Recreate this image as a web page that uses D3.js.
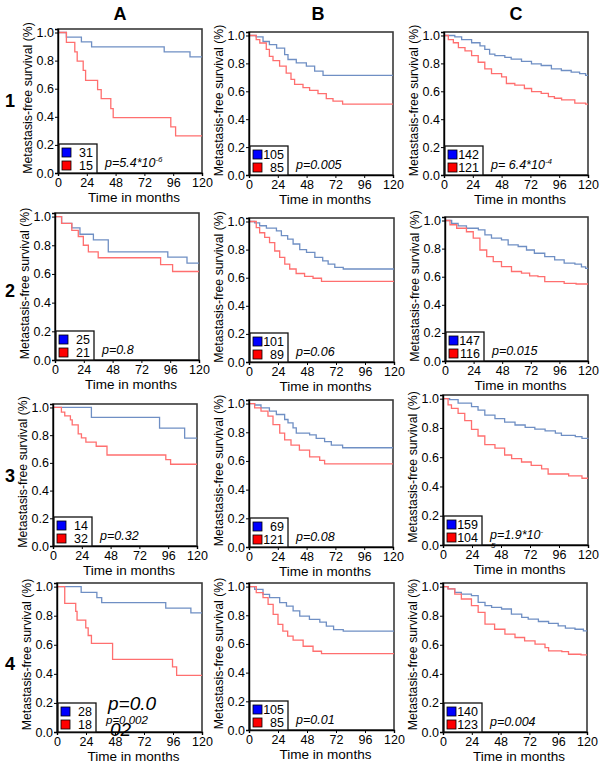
<!DOCTYPE html>
<html><head><meta charset="utf-8">
<script src="https://cdn.jsdelivr.net/npm/d3@7/dist/d3.min.js"></script>
<style>
body{margin:0;background:#fff;}
svg text{font-family:"Liberation Sans",Arial,Helvetica,sans-serif;}
</style></head>
<body><svg id="c" width="600" height="763"></svg>
<script>
// ---- data ----
const columns = ["A","B","C"];
const rows = ["1","2","3","4"];
const xTicks = [0,24,48,72,96,120];
const yTicks = [0,0.2,0.4,0.6,0.8,1.0];

const a1Blue = [[0,1],[7,0.967],[19.5,0.933],[28,0.898],[88.5,0.862],[110,0.826],[120,0.826]];
const a1Red  = [[0,1],[7,0.93],[14,0.862],[16,0.796],[21,0.73],[23,0.66],[33,0.594],[36,0.53],[44,0.458],[46,0.394],[94,0.328],[98,0.264],[120,0.264]];
const b1Blue = [[0,1],[6,0.99],[11.7,0.957],[17,0.934],[23,0.91],[29.7,0.863],[32.5,0.828],[39.4,0.804],[47.8,0.78],[54.7,0.745],[61.7,0.714],[120,0.714]];
const b1Red  = [[0,1],[6,0.97],[9,0.946],[14.4,0.9],[17,0.85],[20,0.82],[25.5,0.78],[31,0.73],[35,0.686],[38,0.65],[45,0.626],[50.5,0.607],[57.5,0.584],[64.4,0.548],[70,0.53],[78,0.508],[120,0.508]];
const c1Blue = [[0,1],[9,0.99],[14.7,0.97],[23,0.948],[30,0.925],[34,0.9],[38,0.866],[42.4,0.855],[50.7,0.843],[56,0.831],[64.6,0.815],[72.9,0.796],[81,0.785],[89.5,0.761],[97.8,0.749],[106,0.738],[113,0.726],[118,0.714],[120,0.714]];
const c1Red  = [[0,1],[3.6,0.97],[7.8,0.948],[12,0.913],[17.5,0.89],[23,0.855],[28.5,0.808],[34,0.761],[39.6,0.726],[48,0.703],[52,0.656],[59,0.644],[67,0.62],[73,0.597],[81,0.585],[87,0.562],[92,0.55],[98,0.539],[109,0.515],[118,0.508],[120,0.508]];
const a2Blue = [[0,1],[5.5,0.952],[14,0.921],[20.8,0.877],[32,0.837],[44.4,0.754],[94,0.718],[110,0.675],[120,0.675]];
const a2Red  = [[0,1],[5.5,0.952],[14,0.904],[19.4,0.861],[23.6,0.8],[27.8,0.754],[36,0.713],[88,0.665],[98,0.617],[120,0.617]];
const b2Blue = [[0,1],[4.7,0.99],[8.8,0.97],[14.4,0.953],[22.7,0.934],[26.8,0.9],[32,0.875],[36.5,0.84],[42,0.8],[47.6,0.78],[54.5,0.745],[61,0.72],[65.5,0.697],[71,0.674],[78,0.662],[120,0.662]];
const b2Red  = [[0,1],[6,0.957],[8.8,0.92],[13,0.887],[17,0.85],[21.3,0.79],[25.4,0.745],[29.6,0.697],[33.7,0.662],[39,0.63],[46,0.61],[53,0.596],[60,0.574],[120,0.574]];
const c2Blue = [[0,1],[5.6,0.98],[11,0.962],[18,0.945],[28,0.933],[33.5,0.898],[39,0.874],[47.4,0.862],[53,0.827],[61.4,0.815],[68.4,0.79],[75,0.767],[83.7,0.743],[92,0.72],[100,0.696],[109,0.69],[114.5,0.67],[118,0.66],[120,0.66]];
const c2Red  = [[0,1],[4.2,0.97],[9.8,0.945],[18,0.92],[23.7,0.874],[29.3,0.79],[35,0.743],[40.5,0.708],[47.4,0.672],[55.8,0.637],[64.2,0.625],[71,0.606],[78,0.6],[83.7,0.565],[100,0.553],[110,0.548],[120,0.548]];
const a3Blue = [[0,1],[32,0.929],[88.8,0.851],[109.7,0.779],[120,0.779]];
const a3Red  = [[0,1],[7,0.966],[9.8,0.94],[14.5,0.91],[16,0.875],[21,0.81],[23.7,0.78],[27.4,0.75],[36,0.72],[45,0.657],[94,0.623],[98,0.59],[120,0.59]];
const b3Blue = [[0,1],[4.7,0.99],[10,0.97],[17,0.948],[22.8,0.924],[29.7,0.889],[32.5,0.865],[36.7,0.83],[39.4,0.794],[50.5,0.782],[56,0.758],[63,0.735],[68.6,0.71],[78,0.692],[120,0.692]];
const b3Red  = [[0,1],[4.7,0.97],[10,0.948],[15.8,0.912],[20,0.853],[25.6,0.794],[29.7,0.747],[35,0.71],[42,0.675],[50.5,0.628],[58.9,0.604],[63,0.58],[120,0.58]];
const c3Blue = [[0,1],[5.5,0.993],[12.5,0.97],[23.6,0.946],[29,0.922],[34.6,0.887],[43,0.863],[51,0.839],[59.6,0.82],[68,0.804],[76,0.792],[84.5,0.78],[93,0.764],[98,0.749],[109.5,0.74],[115,0.728],[120,0.726]];
const c3Red  = [[0,1],[4.2,0.957],[7,0.934],[12.5,0.9],[18,0.85],[23.6,0.79],[29,0.745],[34.6,0.686],[43,0.662],[51,0.615],[56.8,0.59],[65,0.567],[73,0.544],[81.6,0.52],[87,0.485],[104,0.473],[115,0.456],[120,0.456]];
const a4Blue = [[0,1],[20,0.96],[33,0.925],[37,0.89],[90,0.852],[110.8,0.82],[120,0.82]];
const a4Red  = [[0,1],[6.4,0.885],[15.5,0.83],[16.6,0.77],[23.8,0.716],[25.8,0.664],[28.5,0.61],[46,0.5],[95.6,0.448],[99,0.39],[120,0.39]];
const b4Blue = [[0,1],[4.7,0.98],[11.6,0.946],[17,0.923],[25.4,0.888],[31,0.864],[36.5,0.83],[42,0.794],[50,0.771],[58.6,0.752],[64,0.724],[70,0.7],[78,0.689],[120,0.689]];
const b4Red  = [[0,1],[6,0.958],[11.6,0.923],[15.8,0.876],[20,0.806],[24,0.736],[28,0.69],[32,0.654],[36.5,0.626],[44.8,0.584],[53,0.549],[60,0.533],[120,0.533]];
const c4Blue = [[0,1],[4.2,0.984],[9.8,0.961],[15.3,0.949],[23.7,0.938],[29.3,0.892],[35,0.869],[40.5,0.857],[48.8,0.846],[57,0.811],[65.6,0.788],[71,0.776],[79.5,0.76],[88,0.747],[96,0.73],[102,0.714],[110,0.707],[117,0.696],[120,0.696]];
const c4Red  = [[0,1],[4.2,0.984],[9.8,0.949],[15.3,0.915],[23.7,0.869],[29.3,0.823],[35,0.742],[43,0.707],[51.6,0.673],[60,0.65],[68,0.627],[76.7,0.604],[85,0.58],[88,0.558],[99,0.553],[104.6,0.535],[115,0.53],[120,0.53]];

const blueCounts = [31,105,142,25,101,147,14,69,159,28,105,140];
const redCounts  = [15,85,121,21,89,116,32,121,104,18,85,123];
const pMain = ["p=5.4*10","p=0.005","p= 6.4*10","p=0.8","p=0.06","p=0.015","p=0.32","p=0.08","p=1.9*10","","p=0.01","p=0.004"];
const pSup  = ["-6","","-4","","","","","","-","","",""];

const blueSeries = [a1Blue,b1Blue,c1Blue,a2Blue,b2Blue,c2Blue,a3Blue,b3Blue,c3Blue,a4Blue,b4Blue,c4Blue];
const redSeries  = [a1Red,b1Red,c1Red,a2Red,b2Red,c2Red,a3Red,b3Red,c3Red,a4Red,b4Red,c4Red];

// ---- layout (pixel boxes of each panel: left, top, right, bottom) ----
const boxes = [
  [58,29,202,173],[249,32,393,175],[444,32,588,175],
  [55,213,199,360],[249,218,394,362],[445,217,588,361],
  [53,404,197,546],[249,400,393,547],[443,395,588,545],
  [57,583,202,732],[249,583,394,730],[443,583,587,732]
];
const colX = [120,318,516];
const rowY = [107,297,482,670];

const svg = d3.select("#c");
const blueLine = "#6f8fc4", redLine = "#ff6f6f";

columns.forEach((c,i)=>svg.append("text").attr("x",colX[i]).attr("y",20)
  .attr("text-anchor","middle").attr("font-size",18).attr("font-weight","bold").text(c));
rows.forEach((r,i)=>svg.append("text").attr("x",10).attr("y",rowY[i])
  .attr("text-anchor","middle").attr("font-size",18).attr("font-weight","bold").text(r));

boxes.forEach((b,k)=>{
  const [L,T,R,B] = b;
  const x = d3.scaleLinear().domain([0,120]).range([L,R]);
  const y = d3.scaleLinear().domain([0,1.025]).range([B,T]);
  const g = svg.append("g");

  g.append("rect").attr("x",L).attr("y",T).attr("width",R-L).attr("height",B-T)
    .attr("fill","none").attr("stroke","#3a3a3a").attr("stroke-width",1.6);

  const line = d3.line().x(d=>x(d[0])).y(d=>y(d[1])).curve(d3.curveStepAfter);
  g.append("path").datum(blueSeries[k]).attr("d",line).attr("fill","none")
    .attr("stroke",blueLine).attr("stroke-width",1.3);
  g.append("path").datum(redSeries[k]).attr("d",line).attr("fill","none")
    .attr("stroke",redLine).attr("stroke-width",1.3);

  const ya = g.append("g").attr("transform",`translate(${L},0)`)
    .call(d3.axisLeft(y).tickValues(yTicks).tickFormat(d3.format(".1f")).tickSize(3).tickPadding(1));
  const xa = g.append("g").attr("transform",`translate(0,${B})`)
    .call(d3.axisBottom(x).tickValues(xTicks).tickFormat(d3.format("d")).tickSize(3).tickPadding(2));
  [ya,xa].forEach(a=>{
    a.selectAll("text").attr("font-size",12.5).attr("fill","#000")
      .attr("font-family","'Liberation Sans',Arial,sans-serif");
    a.select(".domain").attr("stroke","#000").attr("stroke-width",1.4);
    a.selectAll(".tick line").attr("stroke","#000");
  });

  g.append("text").attr("x",(L+R)/2+4).attr("y",B+29).attr("text-anchor","middle")
    .attr("font-size",13.5).text("Time in months");
  g.append("text").attr("transform",`translate(${L-26},${(T+B)/2-3}) rotate(-90)`)
    .attr("text-anchor","middle").attr("font-size",12.3).text("Metastasis-free survival (%)");

  const lw = 38, lh = 29, lx = L+1, ly = B-lh;
  g.append("rect").attr("x",lx).attr("y",ly).attr("width",lw).attr("height",lh)
    .attr("fill","#fff").attr("stroke","#111").attr("stroke-width",1.3);
  g.append("rect").attr("x",lx+3).attr("y",ly+4).attr("width",9).attr("height",9)
    .attr("fill","#0000ff").attr("stroke","#000").attr("stroke-width",0.8);
  g.append("rect").attr("x",lx+3).attr("y",ly+17).attr("width",9).attr("height",9)
    .attr("fill","#ff0000").attr("stroke","#000").attr("stroke-width",0.8);
  g.append("text").attr("x",lx+lw-4).attr("y",ly+13).attr("text-anchor","end")
    .attr("font-size",12.5).text(blueCounts[k]);
  g.append("text").attr("x",lx+lw-4).attr("y",ly+26).attr("text-anchor","end")
    .attr("font-size",12.5).text(redCounts[k]);

  if (pMain[k]) {
    const t = g.append("text").attr("x",L+47).attr("y",B-6).attr("font-size",12.5)
      .attr("font-style","italic").text(pMain[k]);
    if (pSup[k]) t.append("tspan").attr("dy",-5).attr("font-size",8).text(pSup[k]);
  }
});

// stray texts present in panels C3 and A4 of the original image
svg.append("text").attr("x",491).attr("y",548).attr("font-size",8).attr("font-style","italic").text("5");
svg.append("text").attr("x",108).attr("y",710).attr("font-size",19).attr("font-style","italic").text("p=0.0");
svg.append("text").attr("x",106).attr("y",724).attr("font-size",11.5).attr("font-style","italic").text("p=0.002");
svg.append("text").attr("x",110).attr("y",736).attr("font-size",19).attr("font-style","italic").text("02");
</script>
</body></html>
